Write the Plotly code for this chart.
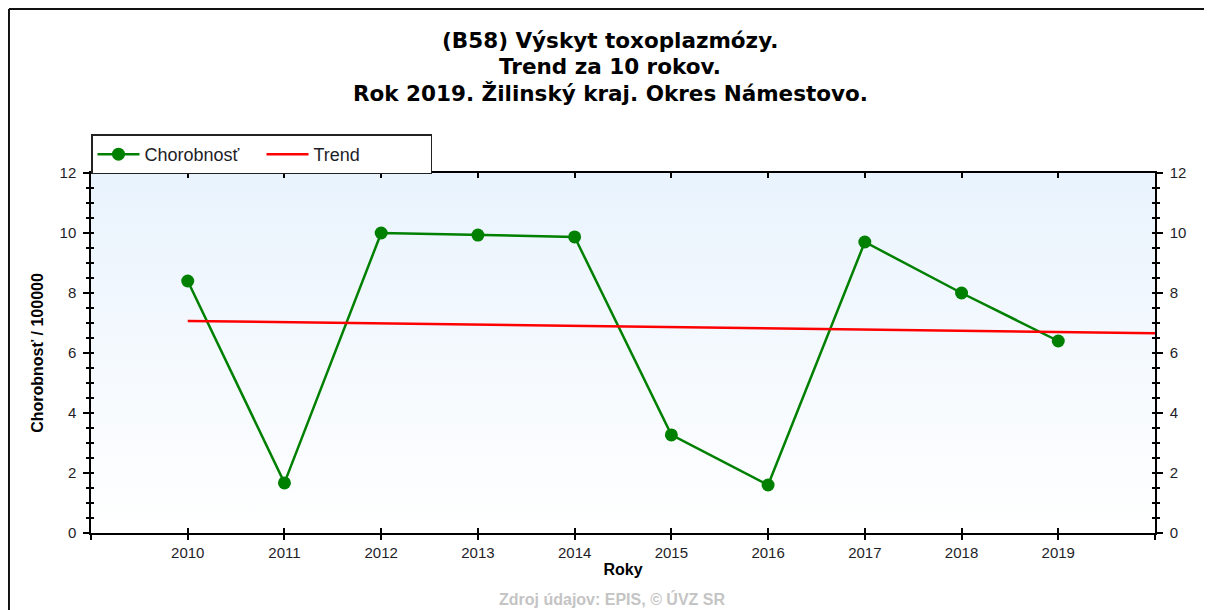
import base64
import plotly.graph_objects as go

# Hodnoty odčítané z obrázka
roky = [2010, 2011, 2012, 2013, 2014, 2015, 2016, 2017, 2018, 2019]
chorobnost = [8.4, 1.67, 10.0, 9.93, 9.87, 3.27, 1.6, 9.7, 8.0, 6.4]
trend_roky = [2010, 2011, 2012, 2013, 2014, 2015, 2016, 2017, 2018, 2019, 2020]
trend = [7.07, 7.03, 6.99, 6.95, 6.90, 6.86, 6.82, 6.78, 6.74, 6.70, 6.66]

x_ticks = list(range(2009, 2021))
x_labels = ["" if r in (2009, 2020) else str(r) for r in x_ticks]
y_ticks = [0, 2, 4, 6, 8, 10, 12]

nadpis = ["(B58) Výskyt toxoplazmózy.",
          "Trend za 10 rokov.",
          "Rok 2019. Žilinský kraj. Okres Námestovo."]

FONT = "Liberation Sans, Arial, sans-serif"
TFONT = "DejaVu Sans, Verdana, sans-serif"
TXT = "#1e1e28"

# gradient pozadia grafu (svetlomodrá hore -> biela dole)
svg = ('<svg xmlns="http://www.w3.org/2000/svg" width="100" height="100" preserveAspectRatio="none">'
       '<defs><linearGradient id="g" x1="0" y1="0" x2="0" y2="1">'
       '<stop offset="0" stop-color="#e9f3fd"/><stop offset="1" stop-color="#ffffff"/>'
       '</linearGradient></defs><rect width="100" height="100" fill="url(#g)"/></svg>')
bg_src = "data:image/svg+xml;base64," + base64.b64encode(svg.encode()).decode()

fig = go.Figure()

fig.add_trace(go.Scatter(
    x=roky, y=chorobnost, name="Chorobnosť", mode="lines+markers",
    line=dict(color="#008000", width=2.5),
    marker=dict(color="#008000", size=13),
))
fig.add_trace(go.Scatter(
    x=trend_roky, y=trend, name="Trend", mode="lines",
    line=dict(color="#ff0000", width=2.5),
))

axis_common = dict(range=[0, 12], tickvals=y_ticks, tickcolor="#000", tickwidth=1.5,
                   tickfont=dict(size=15, color=TXT, family=FONT), showgrid=False, zeroline=False)

# nadpis - tri riadky ako samostatné texty (tesné riadkovanie)
ann = []
for i, riadok in enumerate(nadpis):
    ann.append(dict(text="<b>" + riadok + "</b>", xref="paper", yref="paper",
                    x=0.4878, y=[1.369, 1.297, 1.222][i], xanchor="center", yanchor="middle",
                    showarrow=False, font=dict(size=21.5, color="#000", family=TFONT)))
ann.append(dict(text="<b>Zdroj údajov: EPIS, © ÚVZ SR</b>", xref="paper", yref="paper",
                x=0.4896, y=-0.183, xanchor="center", yanchor="middle", showarrow=False,
                font=dict(size=16, color="#c4c4c4", family=FONT)))

fig.update_layout(
    width=1204, height=602,
    margin=dict(l=83, r=57, t=165, b=77),
    paper_bgcolor="white", plot_bgcolor="rgba(0,0,0,0)",
    font=dict(family=FONT, color=TXT),
    showlegend=True,
    legend=dict(
        orientation="h", x=0, xanchor="left", y=1.107, yanchor="top",
        bordercolor="#222", borderwidth=1.5, bgcolor="white",
        font=dict(size=18, color=TXT, family=FONT),
        entrywidth=112, entrywidthmode="pixels", itemwidth=42,
    ),
    xaxis=dict(
        range=[2009, 2020], tickvals=x_ticks, ticktext=x_labels,
        ticks="outside", ticklen=5, tickwidth=1.5, tickcolor="#000",
        showline=True, linecolor="#000", linewidth=1.5,
        showgrid=False, zeroline=False,
        tickfont=dict(size=15, color=TXT, family=FONT),
        title=dict(text="<b>Roky</b>", font=dict(size=16, color="#000"), standoff=4),
    ),
    xaxis2=dict(
        range=[2009, 2020], tickvals=x_ticks, overlaying="x", side="bottom", anchor="y",
        ticks="inside", ticklen=5, tickwidth=1.5, tickcolor="#000",
        showticklabels=False, showline=False, showgrid=False, zeroline=False,
    ),
    xaxis3=dict(
        range=[2009, 2020], tickvals=x_ticks, overlaying="x", side="top", anchor="y",
        ticks="inside", ticklen=5, tickwidth=1.5, tickcolor="#000",
        showticklabels=False, showline=True, linecolor="#000", linewidth=1.5,
        showgrid=False, zeroline=False,
    ),
    yaxis=dict(
        **axis_common, side="left", ticks="outside", ticklen=6,
        minor=dict(dtick=0.5, ticks="outside", ticklen=3, tickcolor="#000", tickwidth=1.5),
        showline=True, linecolor="#000", linewidth=1.5, ticklabelstandoff=4,
        title=dict(text="<b>Chorobnosť / 100000</b>", font=dict(size=16, color="#000"), standoff=12),
    ),
    yaxis2=dict(
        **axis_common, overlaying="y", side="right", anchor="x", ticks="outside", ticklen=6,
        minor=dict(dtick=0.5, ticks="outside", ticklen=3, tickcolor="#000", tickwidth=1.5),
        showline=True, linecolor="#000", linewidth=1.5, ticklabelstandoff=4,
    ),
    yaxis3=dict(
        range=[0, 12], tickvals=y_ticks, overlaying="y", side="left", anchor="x",
        ticks="inside", ticklen=3, tickwidth=1.5, tickcolor="#000",
        minor=dict(dtick=0.5, ticks="inside", ticklen=3, tickcolor="#000", tickwidth=1.5),
        showticklabels=False, showline=False, showgrid=False, zeroline=False,
    ),
    yaxis4=dict(
        range=[0, 12], tickvals=y_ticks, overlaying="y", side="right", anchor="x",
        ticks="inside", ticklen=3, tickwidth=1.5, tickcolor="#000",
        minor=dict(dtick=0.5, ticks="inside", ticklen=3, tickcolor="#000", tickwidth=1.5),
        showticklabels=False, showline=False, showgrid=False, zeroline=False,
    ),
    images=[dict(source=bg_src, xref="paper", yref="paper", x=0, y=1, sizex=1, sizey=1,
                 xanchor="left", yanchor="top", sizing="stretch", layer="below")],
    # rám obrázka: horná a ľavá hrana
    shapes=[
        dict(type="line", xref="paper", yref="paper", x0=-0.0771, x1=1.06, y0=1.4556, y1=1.4556,
             line=dict(color="#111", width=2)),
        dict(type="line", xref="paper", yref="paper", x0=-0.0771, x1=-0.0771, y0=-0.3, y1=1.4556,
             line=dict(color="#111", width=2)),
    ],
    annotations=ann,
)

# prázdne stopy, aby sa prekryvné osi vykreslili
for xa, ya in [("x2", "y"), ("x3", "y"), ("x", "y2"), ("x", "y3"), ("x", "y4")]:
    fig.add_trace(go.Scatter(x=[None], y=[None], xaxis=xa, yaxis=ya, showlegend=False, hoverinfo="skip"))

fig.write_html("out.html")
